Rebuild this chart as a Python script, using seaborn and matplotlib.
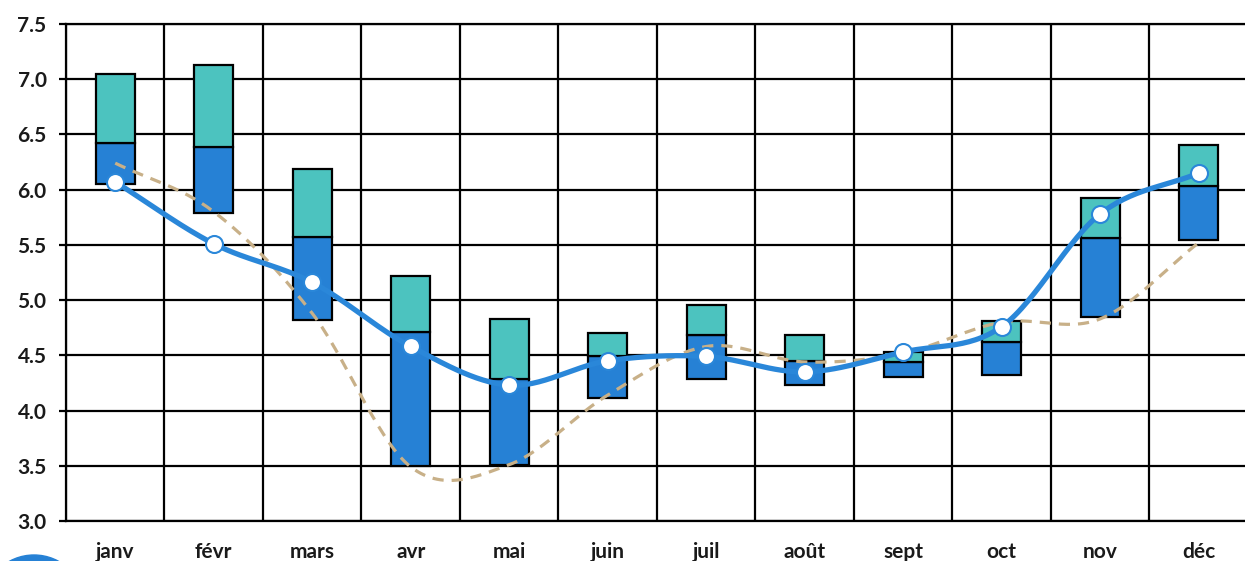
import numpy as np
import pandas as pd
import matplotlib
matplotlib.use("Agg")
import matplotlib.pyplot as plt
from matplotlib.patches import Circle
import seaborn as sns

# Monthly data
months = ['janv', 'févr', 'mars', 'avr', 'mai', 'juin',
          'juil', 'août', 'sept', 'oct', 'nov', 'déc']
range_low = [6.05, 5.79, 4.82, 3.50, 3.51, 4.11, 4.29, 4.23, 4.30, 4.32, 4.85, 5.54]
range_mid = [6.42, 6.39, 5.57, 4.71, 4.29, 4.49, 4.68, 4.45, 4.44, 4.62, 5.56, 6.03]
range_high = [7.05, 7.13, 6.19, 5.22, 4.83, 4.70, 4.96, 4.68, 4.53, 4.81, 5.92, 6.40]
current = [6.07, 5.51, 5.16, 4.58, 4.23, 4.45, 4.49, 4.35, 4.53, 4.76, 5.78, 6.15]
reference = [6.24, 5.80, 4.88, 3.49, 3.51, 4.14, 4.58, 4.44, 4.52, 4.80, 4.83, 5.52]

BLUE = '#2681d5'
TEAL = '#4cc3bf'
LINE_BLUE = '#2a87d9'
TAN = '#c8b088'


def spline(y, steps=30):
    # Catmull-Rom curve through the points, only for drawing a smooth line
    y = np.asarray(y, dtype=float)
    n = len(y)
    m = np.zeros(n)
    m[1:-1] = (y[2:] - y[:-2]) / 2
    m[0] = y[1] - y[0]
    m[-1] = y[-1] - y[-2]
    xs, ys = [], []
    for i in range(n - 1):
        t = np.linspace(0, 1, steps, endpoint=False)
        h00 = 2 * t**3 - 3 * t**2 + 1
        h10 = t**3 - 2 * t**2 + t
        h01 = -2 * t**3 + 3 * t**2
        h11 = t**3 - t**2
        xs.extend(i + t)
        ys.extend(h00 * y[i] + h10 * m[i] + h01 * y[i + 1] + h11 * m[i + 1])
    xs.append(n - 1)
    ys.append(y[-1])
    return pd.DataFrame({'x': xs, 'y': ys})


sns.set_style('white')
plt.rcParams['font.family'] = ['Lato', 'DejaVu Sans']

fig = plt.figure(figsize=(12.45, 5.61), dpi=100)
ax = fig.add_axes([0.053, 0.0713, 0.9494, 0.886])

x = np.arange(len(months))
low = np.array(range_low)
mid = np.array(range_mid)
high = np.array(range_high)

ax.bar(x, mid - low, bottom=low, width=0.4, color=BLUE,
       edgecolor='black', linewidth=1.6, zorder=2)
ax.bar(x, high - mid, bottom=mid, width=0.4, color=TEAL,
       edgecolor='black', linewidth=1.6, zorder=2)

ref_curve = spline(reference)
sns.lineplot(data=ref_curve, x='x', y='y', ax=ax, color=TAN, linewidth=2.3,
             linestyle=(0, (3.5, 2.5)), sort=False, zorder=3)
cur_curve = spline(current)
sns.lineplot(data=cur_curve, x='x', y='y', ax=ax, color=LINE_BLUE, linewidth=3.8,
             sort=False, zorder=4)
sns.scatterplot(x=x, y=current, ax=ax, s=150, color='white',
                edgecolor=LINE_BLUE, linewidth=1.5, zorder=5)

ax.set_xlim(-0.5, len(months) - 0.5)
ax.set_ylim(3.0, 7.5)
ax.set_yticks(np.arange(3.0, 7.51, 0.5))
ax.set_yticklabels([f'{v:.1f}' for v in np.arange(3.0, 7.51, 0.5)])
ax.set_xticks(x)
ax.set_xticklabels(months)
ax.set_xticks(np.arange(-0.5, len(months), 1), minor=True)
ax.set_xlabel('')
ax.set_ylabel('')

ax.grid(which='major', axis='y', color='black', linewidth=1.6)
ax.grid(which='minor', axis='x', color='black', linewidth=1.6)
ax.set_axisbelow(True)
for s in ax.spines.values():
    s.set_color('black')
    s.set_linewidth(1.6)

ax.tick_params(axis='x', which='major', length=0, pad=15,
               labelsize=15, labelcolor='#1a1a1a')
ax.tick_params(axis='x', which='minor', length=5, width=1.6, color='black')
ax.tick_params(axis='y', length=5, width=1.6, color='black', pad=9,
               labelsize=15, labelcolor='#1a1a1a', left=True)
for lab in ax.get_xticklabels() + ax.get_yticklabels():
    lab.set_fontweight('bold')

# partial logo circle at bottom-left corner (coordinates in inches)
fig.add_artist(Circle((0.34, -0.45), 0.51, transform=fig.dpi_scale_trans,
                      color=BLUE, clip_on=False))

fig.savefig('out.png', dpi=100)
